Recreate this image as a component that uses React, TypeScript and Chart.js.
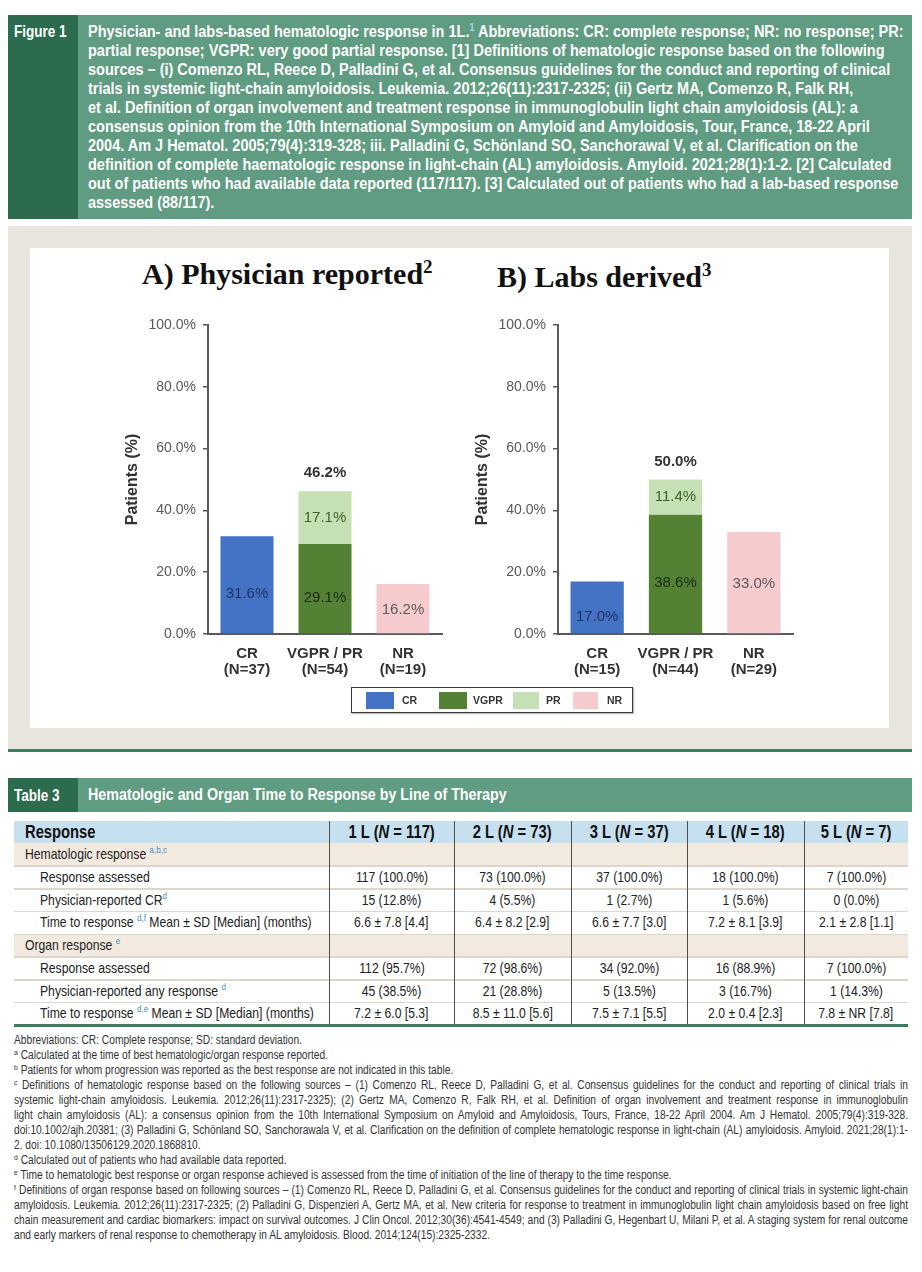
import React, { useEffect, useRef } from "react";
import { Chart, registerables } from "chart.js";
Chart.register(...registerables);

// ---------- DATA ----------
const seriesNames = ["CR", "VGPR", "PR", "NR"];
const categoriesA = [["CR", "(N=37)"], ["VGPR / PR", "(N=54)"], ["NR", "(N=19)"]];
const categoriesB = [["CR", "(N=15)"], ["VGPR / PR", "(N=44)"], ["NR", "(N=29)"]];
const crA = [31.6, null, null];
const vgprA = [null, 29.1, null];
const prA = [null, 17.1, null];
const nrA = [null, null, 16.2];
const totalsA = [null, 46.2, null];
const crB = [17.0, null, null];
const vgprB = [null, 38.6, null];
const prB = [null, 11.4, null];
const nrB = [null, null, 33.0];
const totalsB = [null, 50.0, null];
const yTickValues = [0, 20, 40, 60, 80, 100];

const tableLines = ["1 L", "2 L", "3 L", "4 L", "5 L"];
const tableN = ["117", "73", "37", "18", "7"];
const hemAssessed = ["117 (100.0%)", "73 (100.0%)", "37 (100.0%)", "18 (100.0%)", "7 (100.0%)"];
const hemCR = ["15 (12.8%)", "4 (5.5%)", "1 (2.7%)", "1 (5.6%)", "0 (0.0%)"];
const hemTime = ["6.6 ± 7.8 [4.4]", "6.4 ± 8.2 [2.9]", "6.6 ± 7.7 [3.0]", "7.2 ± 8.1 [3.9]", "2.1 ± 2.8 [1.1]"];
const orgAssessed = ["112 (95.7%)", "72 (98.6%)", "34 (92.0%)", "16 (88.9%)", "7 (100.0%)"];
const orgAny = ["45 (38.5%)", "21 (28.8%)", "5 (13.5%)", "3 (16.7%)", "1 (14.3%)"];
const orgTime = ["7.2 ± 6.0 [5.3]", "8.5 ± 11.0 [5.6]", "7.5 ± 7.1 [5.5]", "2.0 ± 0.4 [2.3]", "7.8 ± NR [7.8]"];

const captionLines = [
  "partial response; VGPR: very good partial response. [1] Definitions of hematologic response based on the following",
  "sources – (i) Comenzo RL, Reece D, Palladini G, et al. Consensus guidelines for the conduct and reporting of clinical",
  "trials in systemic light-chain amyloidosis. Leukemia. 2012;26(11):2317-2325; (ii) Gertz MA, Comenzo R, Falk RH,",
  "et al. Definition of organ involvement and treatment response in immunoglobulin light chain amyloidosis (AL): a",
  "consensus opinion from the 10th International Symposium on Amyloid and Amyloidosis, Tour, France, 18-22 April",
  "2004. Am J Hematol. 2005;79(4):319-328; iii. Palladini G, Schönland SO, Sanchorawal V, et al. Clarification on the",
  "definition of complete haematologic response in light-chain (AL) amyloidosis. Amyloid. 2021;28(1):1-2. [2] Calculated",
  "out of patients who had available data reported (117/117). [3] Calculated out of patients who had a lab-based response",
  "assessed (88/117).",
];

// [superscript, text, justify]
const footLines: [string, string, boolean][] = [
  ["", "Abbreviations: CR: Complete response; SD: standard deviation.", false],
  ["a", "Calculated at the time of best hematologic/organ response reported.", false],
  ["b", "Patients for whom progression was reported as the best response are not indicated in this table.", false],
  ["c", "Definitions of hematologic response based on the following sources – (1) Comenzo RL, Reece D, Palladini G, et al. Consensus guidelines for the conduct and reporting of clinical trials in", true],
  ["", "systemic light-chain amyloidosis. Leukemia. 2012;26(11):2317-2325); (2) Gertz MA, Comenzo R, Falk RH, et al. Definition of organ involvement and treatment response in immunoglobulin", true],
  ["", "light chain amyloidosis (AL): a consensus opinion from the 10th International Symposium on Amyloid and Amyloidosis, Tours, France, 18-22 April 2004. Am J Hematol. 2005;79(4):319-328.", true],
  ["", "doi:10.1002/ajh.20381; (3) Palladini G, Schönland SO, Sanchorawala V, et al. Clarification on the definition of complete hematologic response in light-chain (AL) amyloidosis. Amyloid. 2021;28(1):1-", true],
  ["", "2. doi: 10.1080/13506129.2020.1868810.", false],
  ["d", "Calculated out of patients who had available data reported.", false],
  ["e", "Time to hematologic best response or organ response achieved is assessed from the time of initiation of the line of therapy to the time response.", false],
  ["f", "Definitions of organ response based on following sources – (1) Comenzo RL, Reece D, Palladini G, et al. Consensus guidelines for the conduct and reporting of clinical trials in systemic light-chain", true],
  ["", "amyloidosis. Leukemia. 2012;26(11):2317-2325; (2) Palladini G, Dispenzieri A, Gertz MA, et al. New criteria for response to treatment in immunoglobulin light chain amyloidosis based on free light", true],
  ["", "chain measurement and cardiac biomarkers: impact on survival outcomes. J Clin Oncol. 2012;30(36):4541-4549; and (3) Palladini G, Hegenbart U, Milani P, et al. A staging system for renal outcome", true],
  ["", "and early markers of renal response to chemotherapy in AL amyloidosis. Blood. 2014;124(15):2325-2332.", false],
];

// ---------- STYLE ----------
const COLORS = { CR: "#4472c4", VGPR: "#548235", PR: "#c5e0b4", NR: "#f6cbcd" };
const LABEL_COLORS = { CR: "#1f3463", VGPR: "#1c2b14", PR: "#3b6628", NR: "#5a5a5a" };
const LABEL_OFFSETS = { CR: 9, VGPR: 9, PR: 0, NR: 1 };
const ARIAL = '"Liberation Sans", Arial, sans-serif';
const SERIF = '"Liberation Serif", "Times New Roman", serif';

const barLabels = {
  id: "barLabels",
  afterDatasetsDraw(chart: any, _args: any, opts: any) {
    const ctx = chart.ctx;
    ctx.save();
    ctx.textAlign = "center";
    ctx.textBaseline = "middle";
    chart.data.datasets.forEach((ds: any, di: number) => {
      const meta = chart.getDatasetMeta(di);
      meta.data.forEach((el: any, i: number) => {
        const v = ds.data[i];
        if (v == null) return;
        const p = el.getProps(["x", "y", "base"], true);
        ctx.font = `15px ${ARIAL}`;
        ctx.fillStyle = LABEL_COLORS[ds.label];
        ctx.fillText(v.toFixed(1) + "%", p.x, (p.y + p.base) / 2 + LABEL_OFFSETS[ds.label]);
      });
    });
    const totals = opts.totals || [];
    const xs = chart.scales.x;
    const ys = chart.scales.y;
    totals.forEach((t: number | null, i: number) => {
      if (t == null) return;
      ctx.font = `bold 15px ${ARIAL}`;
      ctx.fillStyle = "#333333";
      ctx.fillText(t.toFixed(1) + "%", xs.getPixelForValue(i), ys.getPixelForValue(t) - 18);
    });
    ctx.restore();
  },
};

function BarChart(props: { cats: string[][]; series: (number | null)[][]; totals: (number | null)[]; left: number; padRight: number }) {
  const ref = useRef<HTMLCanvasElement>(null);
  useEffect(() => {
    const chart = new Chart(ref.current as HTMLCanvasElement, {
      type: "bar",
      data: {
        labels: props.cats as any,
        datasets: seriesNames.map((name, k) => ({
          label: name,
          data: props.series[k] as any,
          backgroundColor: COLORS[name],
          barPercentage: 0.68,
          categoryPercentage: 1,
        })),
      },
      options: {
        animation: false,
        responsive: false,
        layout: { padding: { top: 30, right: props.padRight, left: 0, bottom: 0 } },
        plugins: {
          legend: { display: false },
          tooltip: { enabled: false },
          barLabels: { totals: props.totals },
        } as any,
        scales: {
          x: {
            stacked: true,
            grid: { display: true, drawOnChartArea: false, drawTicks: false, color: "rgba(0,0,0,0)" },
            border: { display: true, color: "#595959", width: 2 },
            ticks: {
              color: "#333333",
              padding: 12,
              autoSkip: false,
              minRotation: 0,
              maxRotation: 0,
              font: { family: ARIAL, size: 15, weight: "bold", lineHeight: 1.05 },
            },
            afterFit: (s: any) => {
              s.height = 61;
            },
          },
          y: {
            stacked: true,
            min: 0,
            max: 100,
            afterBuildTicks: (s: any) => {
              s.ticks = yTickValues.map((v) => ({ value: v }));
            },
            grid: { display: true, drawOnChartArea: false, drawTicks: true, tickLength: 5, color: "#595959", lineWidth: 1.5 },
            border: { display: true, color: "#595959", width: 2 },
            ticks: {
              color: "#595959",
              padding: 7,
              font: { family: ARIAL, size: 14 },
              callback: (v: any) => Number(v).toFixed(1) + "%",
            },
            title: {
              display: true,
              text: "Patients (%)",
              color: "#333333",
              font: { family: ARIAL, size: 16, weight: "bold" },
              padding: { top: 13, bottom: 0 },
            },
            afterFit: (s: any) => {
              s.width = 98;
            },
          },
        },
      },
      plugins: [barLabels as any],
    });
    return () => chart.destroy();
  }, []);
  return (
    <div style={{ position: "absolute", left: props.left, top: 295, width: 340, height: 400 }}>
      <canvas ref={ref} width={340} height={400} style={{ display: "block" }} />
    </div>
  );
}

const abs = (l: number, t: number, w: number, h: number, extra: any = {}) => ({
  position: "absolute" as const,
  left: l,
  top: t,
  width: w,
  height: h,
  ...extra,
});

// condensed text: Liberation Sans horizontally compressed
function N(props: { s?: number; o?: string; children: React.ReactNode }) {
  return (
    <span
      style={{
        display: "inline-block",
        whiteSpace: "nowrap",
        transform: `scaleX(${props.s ?? 0.82})`,
        transformOrigin: props.o ?? "left center",
      }}
    >
      {props.children}
    </span>
  );
}

const supStyle: React.CSSProperties = { fontSize: "9.5px", color: "#3a8fc4", verticalAlign: "6px", lineHeight: 0 };

const colEdges = [14, 329, 454, 571, 687, 804, 908];
const rowH = 22.75;
const tableTop = 821;
const headerH = 22;
const TS = 0.84;

function TableRows() {
  const rows: { label: React.ReactNode; values: string[] | null; section: boolean }[] = [
    { label: <>Hematologic response <sup style={supStyle}>a,b,c</sup></>, values: null, section: true },
    { label: "Response assessed", values: hemAssessed, section: false },
    { label: <>Physician-reported CR<sup style={supStyle}>d</sup></>, values: hemCR, section: false },
    { label: <>Time to response <sup style={supStyle}>d,f</sup> Mean ± SD [Median] (months)</>, values: hemTime, section: false },
    { label: <>Organ response <sup style={supStyle}>e</sup></>, values: null, section: true },
    { label: "Response assessed", values: orgAssessed, section: false },
    { label: <>Physician-reported any response <sup style={supStyle}>d</sup></>, values: orgAny, section: false },
    { label: <>Time to response <sup style={supStyle}>d,e</sup> Mean ± SD [Median] (months)</>, values: orgTime, section: false },
  ];
  const out: React.ReactNode[] = [];
  const w = colEdges[6] - colEdges[0];
  out.push(<div key="hbg" style={abs(colEdges[0], tableTop, w, headerH, { background: "#c6e0ef" })} />);
  out.push(
    <div key="hr" style={abs(colEdges[0] + 11, tableTop, 300, headerH, { font: `bold 18px ${ARIAL}`, lineHeight: headerH + "px", color: "#111" })}>
      <N>Response</N>
    </div>
  );
  tableLines.forEach((l, i) => {
    out.push(
      <div key={"hc" + i} style={abs(colEdges[i + 1], tableTop, colEdges[i + 2] - colEdges[i + 1], headerH, { font: `bold 18px ${ARIAL}`, lineHeight: headerH + "px", textAlign: "center", color: "#111" })}>
        <N o="center center">
          {l} (<i>N</i> = {tableN[i]})
        </N>
      </div>
    );
  });
  rows.forEach((r, ri) => {
    const top = tableTop + headerH + ri * rowH;
    if (r.section) out.push(<div key={"sb" + ri} style={abs(colEdges[0], top, w, rowH, { background: "#f2eadf" })} />);
    if (ri > 0) out.push(<div key={"sl" + ri} style={abs(colEdges[0], top - 0.5, w, 1.5, { background: "#ddd6cc" })} />);
    out.push(
      <div key={"rl" + ri} style={abs(colEdges[0] + (r.section ? 11 : 26), top, 360, rowH, { font: `14.5px ${ARIAL}`, lineHeight: rowH + "px", color: "#222", whiteSpace: "nowrap" })}>
        <N s={TS}>{r.label}</N>
      </div>
    );
    if (r.values)
      r.values.forEach((v, ci) => {
        out.push(
          <div key={"v" + ri + "_" + ci} style={abs(colEdges[ci + 1], top, colEdges[ci + 2] - colEdges[ci + 1], rowH, { font: `14.5px ${ARIAL}`, lineHeight: rowH + "px", textAlign: "center", color: "#222", whiteSpace: "nowrap" })}>
            <N s={TS} o="center center">{v}</N>
          </div>
        );
      });
  });
  const bottom = tableTop + headerH + rows.length * rowH;
  for (let i = 1; i <= 5; i++) {
    out.push(<div key={"vl" + i} style={abs(colEdges[i], tableTop, 1.2, bottom - tableTop, { background: "#4d4d4d" })} />);
  }
  out.push(<div key="bl" style={abs(colEdges[0], bottom - 1, w, 2.5, { background: "#3d7c5f" })} />);
  return <>{out}</>;
}

const FS = 0.85; // footnote compression
const CS = 0.905; // caption compression

export default function App() {
  return (
    <div style={{ position: "absolute", left: 0, top: 0, width: 922, height: 1272, overflow: "hidden", background: "#ffffff" }}>
      {/* Figure caption */}
      <div style={abs(8, 15, 904, 204, { background: "#5f9c81" })} />
      <div style={abs(8, 15, 70, 204, { background: "#2d6b4f" })} />
      <div style={abs(14, 22, 70, 19, { font: `bold 16.5px ${ARIAL}`, color: "#fff", lineHeight: "19px" })}>
        <N>Figure 1</N>
      </div>
      <div style={abs(88, 22, 822, 195, { font: `bold 16px ${ARIAL}`, color: "#fff", lineHeight: "19px" })}>
        <div style={{ whiteSpace: "nowrap", height: 19 }}>
          <N s={CS}>
            Physician- and labs-based hematologic response in 1L.<sup style={{ fontSize: "10px", color: "#a9d6f2", verticalAlign: "6px", lineHeight: 0 }}>1</sup> Abbreviations: CR: complete response; NR: no response; PR:
          </N>
        </div>
        {captionLines.map((l, i) => (
          <div key={i} style={{ whiteSpace: "nowrap", height: 19 }}>
            <N s={CS}>{l}</N>
          </div>
        ))}
      </div>

      {/* Chart panel */}
      <div style={abs(8, 226, 904, 524, { background: "#e8e5dc" })} />
      <div style={abs(30, 248, 859, 480, { background: "#ffffff" })} />
      <div style={abs(8, 749, 904, 2.5, { background: "#3d7c5f" })} />

      <div style={abs(142, 254, 320, 40, { font: `bold 30px ${SERIF}`, color: "#111", whiteSpace: "nowrap", lineHeight: "40px" })}>
        A) Physician reported<sup style={{ fontSize: "19px", verticalAlign: "11px", lineHeight: 0 }}>2</sup>
      </div>
      <div style={abs(497, 257, 320, 40, { font: `bold 30px ${SERIF}`, color: "#111", whiteSpace: "nowrap", lineHeight: "40px" })}>
        B) Labs derived<sup style={{ fontSize: "19px", verticalAlign: "11px", lineHeight: 0 }}>3</sup>
      </div>

      <BarChart cats={categoriesA} series={[crA, vgprA, prA, nrA]} totals={totalsA} left={110} padRight={8} />
      <BarChart cats={categoriesB} series={[crB, vgprB, prB, nrB]} totals={totalsB} left={460} padRight={7} />

      {/* Legend */}
      <div style={abs(351, 687, 282, 26, { border: "1.5px solid #3a3a3a", boxSizing: "border-box", boxShadow: "1px 1px 1px rgba(0,0,0,0.25)" })} />
      {seriesNames.map((n, i) => {
        const sw = [366, 439, 513, 573][i];
        const swW = [28, 28, 26, 25][i];
        const tx = [402, 473, 546, 607][i];
        return (
          <React.Fragment key={n}>
            <div style={abs(sw, 692, swW, 17, { background: COLORS[n] })} />
            <div style={abs(tx, 691, 40, 19, { font: `bold 10.5px ${ARIAL}`, color: "#333", lineHeight: "19px" })}>{n}</div>
          </React.Fragment>
        );
      })}

      {/* Table header bar */}
      <div style={abs(8, 778, 904, 34, { background: "#5f9c81" })} />
      <div style={abs(8, 778, 70, 34, { background: "#2d6b4f" })} />
      <div style={abs(14, 778, 70, 34, { font: `bold 16.5px ${ARIAL}`, color: "#fff", lineHeight: "34px" })}>
        <N>Table 3</N>
      </div>
      <div style={abs(88, 778, 800, 34, { font: `bold 17px ${ARIAL}`, color: "#fff", lineHeight: "34px" })}>
        <N s={0.84}>Hematologic and Organ Time to Response by Line of Therapy</N>
      </div>

      <TableRows />

      {/* Footnotes */}
      <div style={abs(14, 1033, 894, 220, { font: `12px ${ARIAL}`, color: "#333", lineHeight: "15px" })}>
        {footLines.map(([s, t, j], i) => (
          <div
            key={i}
            style={{
              width: 894 / FS,
              height: 15,
              overflow: "hidden",
              transform: `scaleX(${FS})`,
              transformOrigin: "left center",
              textAlign: j ? "justify" : "left",
              textAlignLast: j ? "justify" : "left",
            } as any}
          >
            {s ? <sup style={{ fontSize: "8px", verticalAlign: "4px", lineHeight: 0 }}>{s}</sup> : null}
            {s ? " " : ""}
            {t}
          </div>
        ))}
      </div>
    </div>
  );
}
